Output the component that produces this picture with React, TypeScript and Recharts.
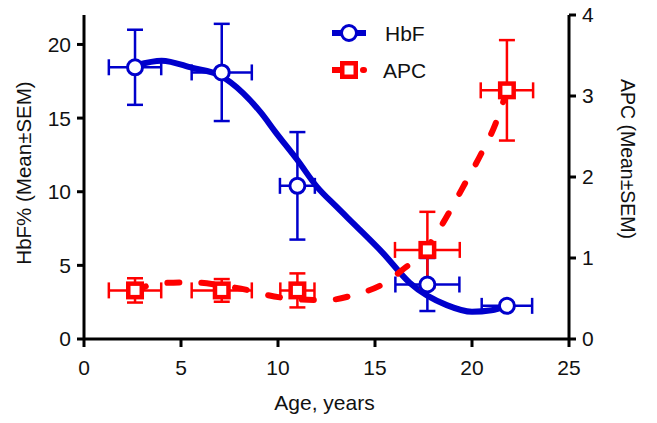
import {
  ComposedChart,
  Line,
  Scatter,
  ErrorBar,
  XAxis,
  YAxis,
} from 'recharts';

const FONT = '"Liberation Sans", Arial, sans-serif';
const BLUE = '#0000CC';
const RED = '#FF0000';

// measured groups (mean ± SEM)
const ages = [2.63, 7.1, 11.0, 17.7, 21.8];
const hbfAgeSem = [1.35, 1.55, 0.9, 1.65, 1.3];
const hbfMean = [18.45, 18.1, 10.4, 3.7, 2.25];
const hbfSem = [2.55, 3.3, 3.65, 1.8, 0.2];
const apcAgeSem = [1.35, 1.55, 0.88, 1.67, 1.35];
const apcMean = [0.6, 0.6, 0.6, 1.1, 3.07];
const apcSem = [0.15, 0.14, 0.21, 0.47, 0.62];

// fitted curves
const hbfFitAge = [2.7, 4, 5.6, 7, 8.2, 9.1, 9.9, 11, 12, 13, 14, 15.4, 16.8, 18.7, 20, 21, 21.8];
const hbfFit = [18.6, 18.9, 18.4, 17.9, 16.7, 15.4, 14.0, 12.15, 10.35, 9.0, 7.7, 5.85, 3.8, 2.3, 1.85, 1.95, 2.25];
const apcFitAge = [2.6, 4, 5.5, 7.1, 8.5, 9.5, 11, 12.5, 14, 15.5, 16.5, 17.5, 18.5, 19.5, 20.5, 21.2, 21.8];
const apcFit = [0.6, 0.69, 0.7, 0.66, 0.6, 0.54, 0.49, 0.48, 0.55, 0.69, 0.87, 1.07, 1.43, 1.86, 2.3, 2.65, 3.07];

const xTicks = [0, 5, 10, 15, 20, 25];
const hbfTicks = [0, 5, 10, 15, 20];
const apcTicks = [0, 1, 2, 3, 4];

const hbfPoints = ages.map((age, i) => ({ age, hbf: hbfMean[i], hbfErr: hbfSem[i], ageErr: hbfAgeSem[i] }));
const apcPoints = ages.map((age, i) => ({ age, apc: apcMean[i], apcErr: apcSem[i], ageErr: apcAgeSem[i] }));
const hbfCurve = hbfFitAge.map((age, i) => ({ age, hbf: hbfFit[i] }));
const apcCurve = apcFitAge.map((age, i) => ({ age, apc: apcFit[i] }));

const tickStyle = { fill: '#111', fontSize: 21, fontFamily: FONT };
const lineStyle = { stroke: '#000', strokeWidth: 3 };

const Circle = (props: any) => (
  <circle cx={props.cx} cy={props.cy} r={7.5} fill="#fff" stroke={BLUE} strokeWidth={3} />
);

const Square = (props: any) => (
  <rect x={props.cx - 6.75} y={props.cy - 6.75} width={13.5} height={13.5} fill="#fff" stroke={RED} strokeWidth={4.5} />
);

const AgeTitle = ({ viewBox }: any) => (
  <text x={viewBox.x + viewBox.width / 2 - 2} y={410} textAnchor="middle" fontSize={21} fontFamily={FONT} fill="#111">
    Age, years
  </text>
);

const HbfTitle = ({ viewBox }: any) => (
  <text
    transform={`translate(${viewBox.x + 19}, ${viewBox.y + viewBox.height / 2 - 4}) rotate(-90)`}
    textAnchor="middle"
    dominantBaseline="central"
    fontSize={20.5}
    fontFamily={FONT}
    fill="#111"
  >
    HbF% (Mean±SEM)
  </text>
);

const ApcTitle = ({ viewBox }: any) => (
  <text
    transform={`translate(${viewBox.x + viewBox.width - 21}, ${viewBox.y + viewBox.height / 2 - 18}) rotate(90)`}
    textAnchor="middle"
    dominantBaseline="central"
    fontSize={19.5}
    fontFamily={FONT}
    fill="#111"
  >
    APC (Mean±SEM)
  </text>
);

function LegendBox() {
  return (
    <svg width={657} height={423} style={{ position: 'absolute', left: 0, top: 0, pointerEvents: 'none' }}>
      <line x1={332} x2={366} y1={33} y2={33} stroke={BLUE} strokeWidth={6} />
      <circle cx={349} cy={33} r={7.5} fill="#fff" stroke={BLUE} strokeWidth={3} />
      <text x={385} y={40.5} fontSize={21} fontFamily={FONT} fill="#111">HbF</text>
      <line x1={332} x2={346} y1={70} y2={70} stroke={RED} strokeWidth={6} />
      <line x1={363} x2={364} y1={70} y2={70} stroke={RED} strokeWidth={6} strokeLinecap="round" />
      <rect x={342.25} y={63.25} width={13.5} height={13.5} fill="#fff" stroke={RED} strokeWidth={4.5} />
      <text x={383} y={77.5} fontSize={21} fontFamily={FONT} fill="#111">APC</text>
    </svg>
  );
}

export default function App() {
  return (
    <div style={{ position: 'absolute', left: 0, top: 0, width: 657, height: 423, background: '#fff' }}>
      <ComposedChart width={657} height={423} margin={{ top: 15, right: 8, bottom: 39, left: 4 }}>
        <XAxis
          type="number"
          dataKey="age"
          domain={[0, 25]}
          ticks={xTicks}
          height={45}
          tickSize={8}
          tickMargin={13}
          tick={tickStyle}
          tickLine={lineStyle}
          axisLine={lineStyle}
          label={{ content: AgeTitle }}
        />
        <YAxis
          yAxisId="hbf"
          dataKey="hbf"
          type="number"
          domain={[0, 22]}
          ticks={hbfTicks}
          width={80}
          tickSize={7}
          tickMargin={6}
          tick={tickStyle}
          tickLine={lineStyle}
          axisLine={lineStyle}
          label={{ content: HbfTitle }}
        />
        <YAxis
          yAxisId="apc"
          dataKey="apc"
          orientation="right"
          type="number"
          domain={[0, 4]}
          ticks={apcTicks}
          width={80}
          tickSize={7}
          tickMargin={6}
          tick={tickStyle}
          tickLine={lineStyle}
          axisLine={lineStyle}
          label={{ content: ApcTitle }}
        />
        <Line
          yAxisId="hbf"
          data={hbfCurve}
          dataKey="hbf"
          type="monotone"
          stroke={BLUE}
          strokeWidth={6}
          dot={false}
          activeDot={false}
          isAnimationActive={false}
        />
        <Line
          yAxisId="apc"
          data={apcCurve}
          dataKey="apc"
          type="monotone"
          stroke={RED}
          strokeWidth={6}
          strokeDasharray="12 22"
          strokeLinecap="round"
          dot={false}
          activeDot={false}
          isAnimationActive={false}
        />
        <Scatter yAxisId="hbf" data={hbfPoints} dataKey="hbf" shape={Circle} isAnimationActive={false}>
          <ErrorBar dataKey="ageErr" direction="x" width={8} stroke={BLUE} strokeWidth={2.5} />
          <ErrorBar dataKey="hbfErr" direction="y" width={8} stroke={BLUE} strokeWidth={2.5} />
        </Scatter>
        <Scatter yAxisId="apc" data={apcPoints} dataKey="apc" shape={Square} isAnimationActive={false}>
          <ErrorBar dataKey="ageErr" direction="x" width={8} stroke={RED} strokeWidth={2.5} />
          <ErrorBar dataKey="apcErr" direction="y" width={8} stroke={RED} strokeWidth={2.5} />
        </Scatter>
      </ComposedChart>
      <LegendBox />
    </div>
  );
}
